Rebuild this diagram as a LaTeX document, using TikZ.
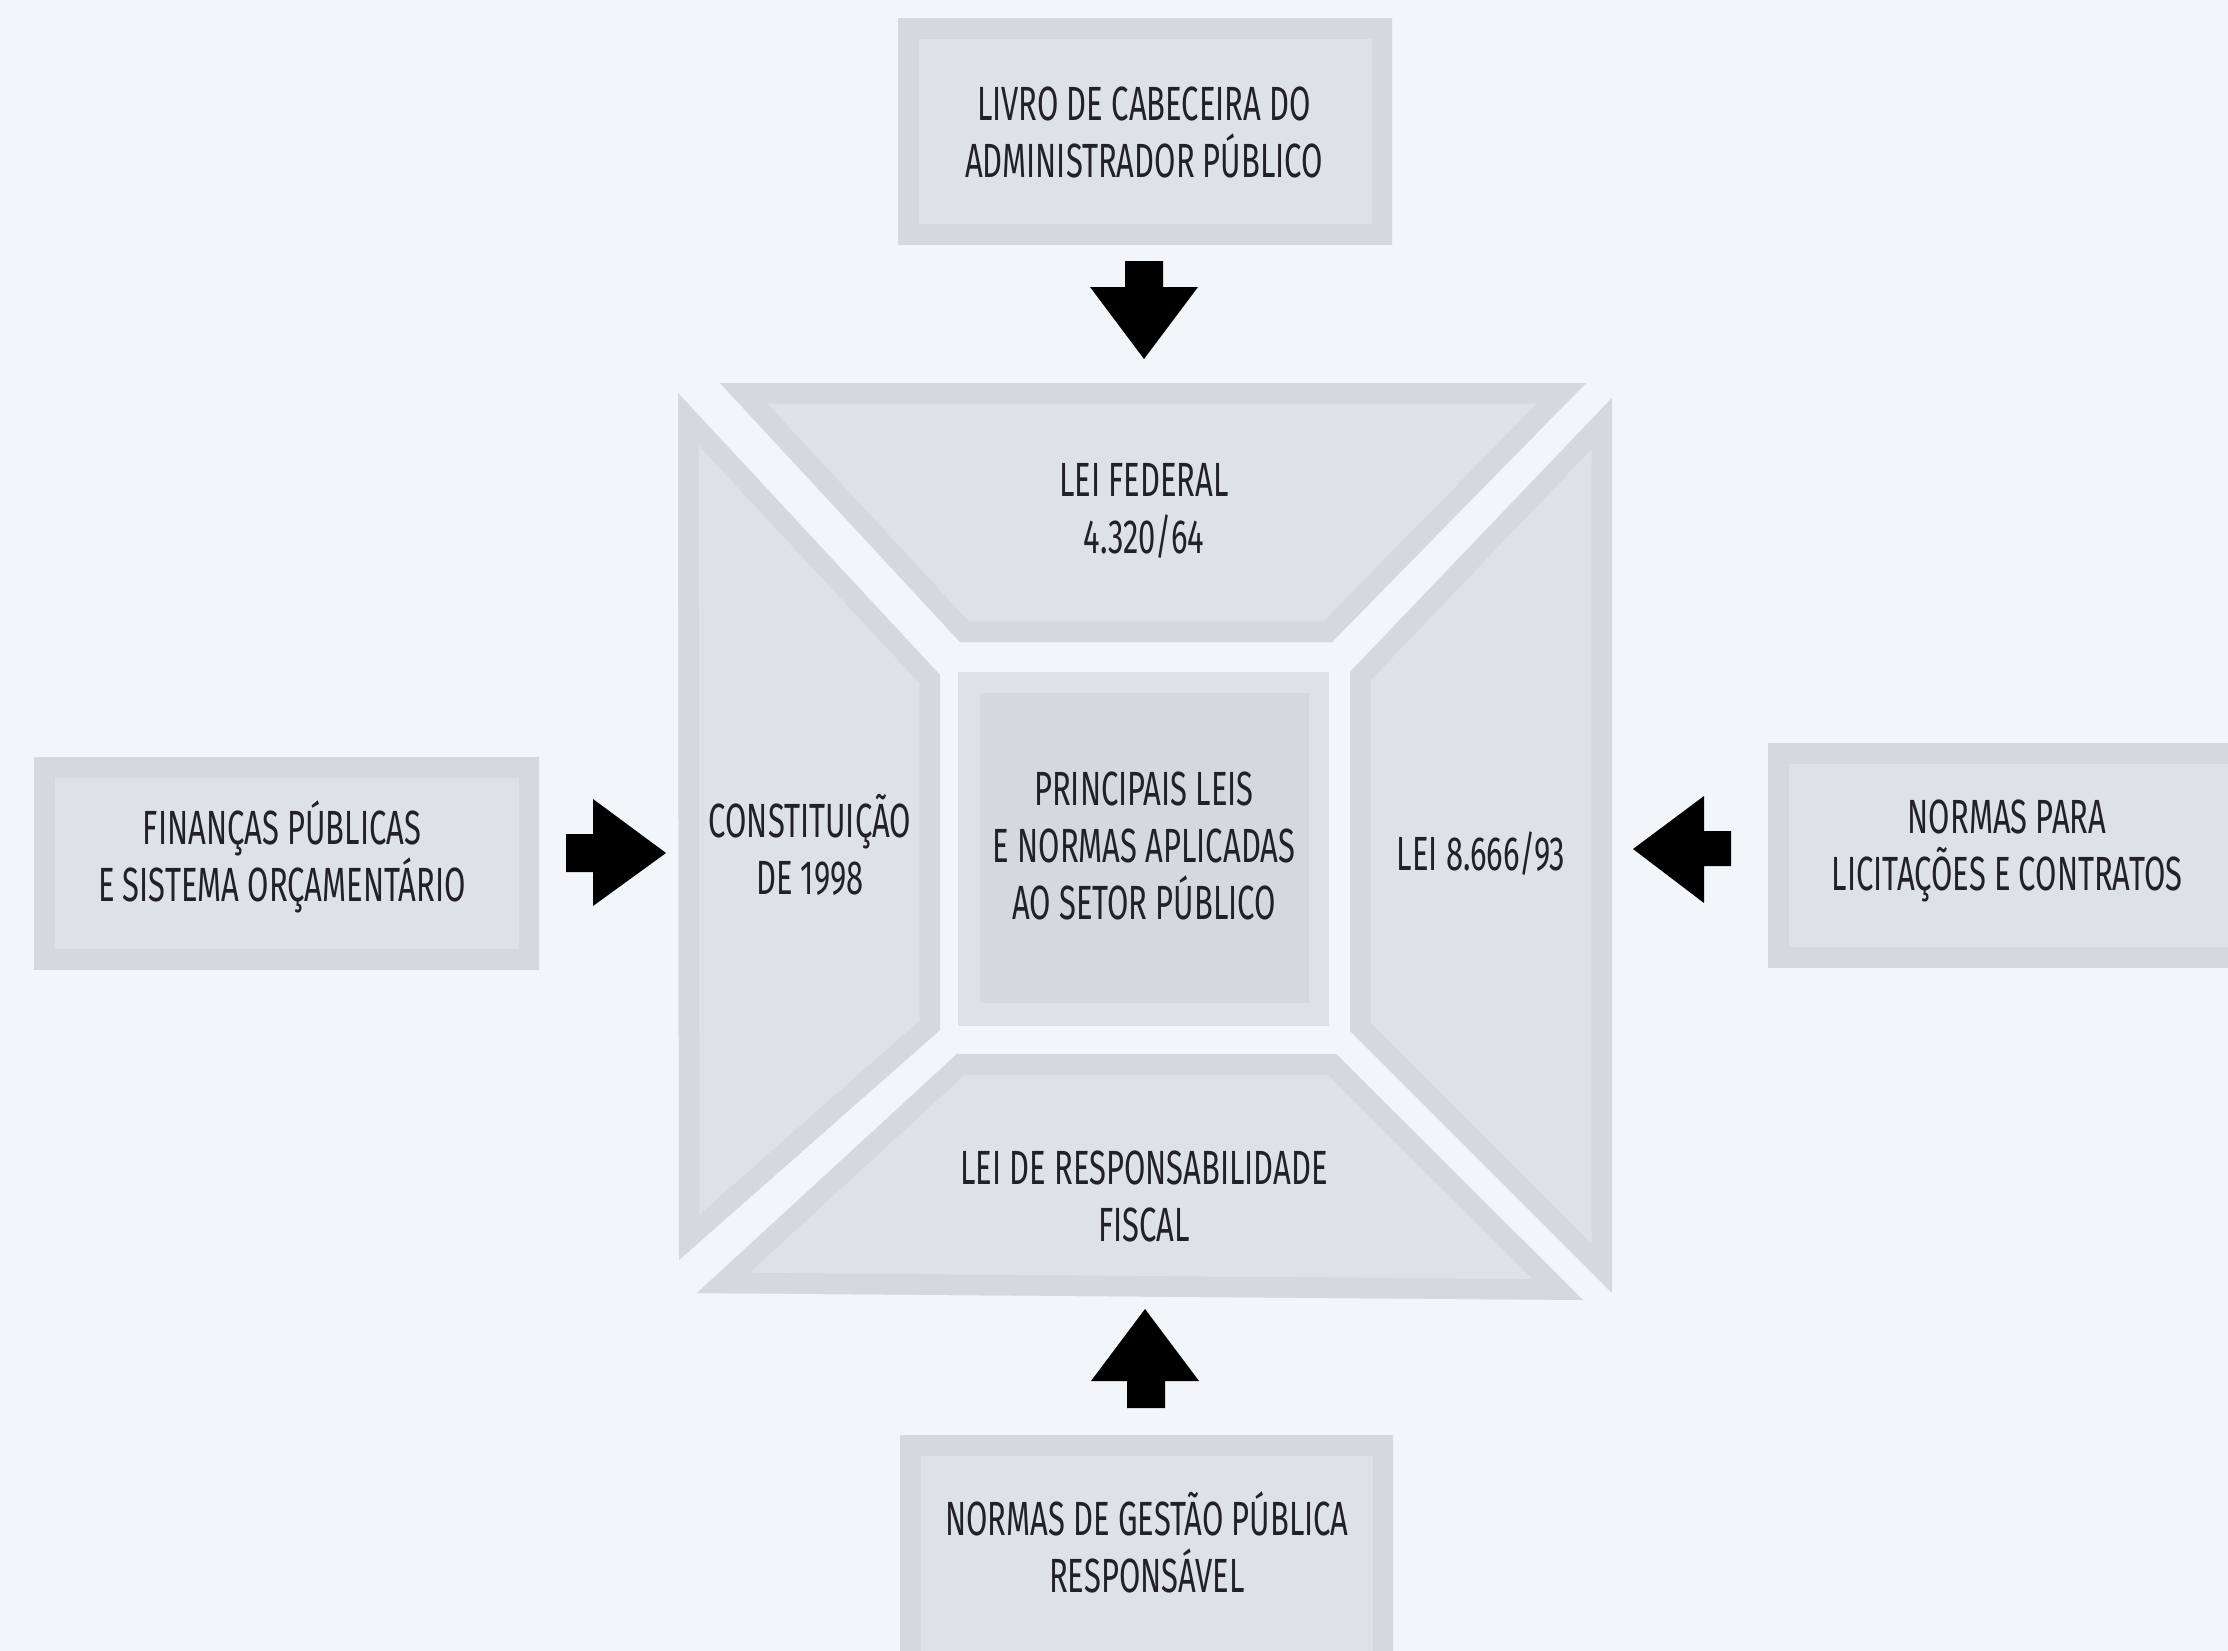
\documentclass[tikz,border=0pt]{standalone}
\usepackage{fontspec}
\setmainfont[FakeStretch=0.645]{Fira Sans}
\definecolor{bg}{HTML}{F2F6F9}
\definecolor{rim}{HTML}{D5D8DD}
\definecolor{face}{HTML}{DDE1E8}
\definecolor{ink}{HTML}{222226}
% a panel: face colour with an inset rim along its edges
\newcommand\panel[1]{%
  \begin{scope}
    \clip #1 -- cycle;
    \fill[face] #1 -- cycle;
    \draw[rim, line width=41pt] #1 -- cycle;
  \end{scope}}
\begin{document}
\begin{tikzpicture}[x=1pt, y=-1pt,
  lbl/.style={align=center, text=ink, inner sep=0pt,
              font=\fontsize{48}{57}\selectfont},
  blockarrow/.style={fill=black}]
\useasboundingbox (0,0) rectangle (2228,1651);
\clip (0,0) rectangle (2228,1651);
\fill[bg] (0,0) rectangle (2228,1651);

% outer boxes
\panel{(898,19) -- (1392,19) -- (1392,244) -- (898,244)}
\panel{(34,757) -- (539,757) -- (539,969) -- (34,969)}
\panel{(1768,743) -- (2260,743) -- (2260,967) -- (1768,967)}
\panel{(900,1435) -- (1393,1435) -- (1393,1680) -- (900,1680)}

% the frame of four trapezoids
\panel{(720,383) -- (1586,383) -- (1332,642) -- (960,642)}
\panel{(678,393) -- (940,675) -- (940,1030) -- (679,1260)}
\panel{(1612,398) -- (1612,1293) -- (1350,1031) -- (1350,672)}
\panel{(957,1054) -- (1336,1054) -- (1583,1300) -- (697,1293)}

% central square
\fill[face] (958,672) rectangle (1329,1026);
\fill[rim] (980,693) rectangle (1309,1003);

% block arrows
\fill[blockarrow] (1125,261) -- (1163,261) -- (1163,287) -- (1198,287) -- (1144,359) -- (1090,287) -- (1125,287) -- cycle;
\fill[blockarrow] (1127,1408) -- (1165,1408) -- (1165,1381) -- (1199,1381) -- (1145,1309) -- (1091,1381) -- (1127,1381) -- cycle;
\fill[blockarrow] (566,834) -- (566,872) -- (593,872) -- (593,906) -- (666,853) -- (593,799) -- (593,834) -- cycle;
\fill[blockarrow] (1731,831) -- (1731,866) -- (1704,866) -- (1704,903) -- (1633,849) -- (1704,796) -- (1704,831) -- cycle;

% labels
\node[lbl] (livro) at (1144,132) {LIVRO DE CABECEIRA DO\\ADMINISTRADOR PÚBLICO};
\node[lbl] (financas) at (282,857) {FINANÇAS PÚBLICAS\\E SISTEMA ORÇAMENTÁRIO};
\node[lbl] (licit) at (2007,851) {NORMAS PARA\\LICITAÇÕES E CONTRATOS};
\node[lbl] (gestao) at (1147,1542) {NORMAS DE GESTÃO PÚBLICA\\RESPONSÁVEL};
\node[lbl] (federal) at (1144,511) {LEI FEDERAL\\4.320/64};
\node[lbl] (constit) at (810,845) {CONSTITUIÇÃO\\DE 1998};
\node[lbl] (lei8666) at (1481,854) {LEI 8.666/93};
\node[lbl] (lrf) at (1144,1196) {LEI DE RESPONSABILIDADE\\FISCAL};
\node[lbl] (centro) at (1144,846) {PRINCIPAIS LEIS\\E NORMAS APLICADAS\\AO SETOR PÚBLICO};
\end{tikzpicture}
\end{document}
